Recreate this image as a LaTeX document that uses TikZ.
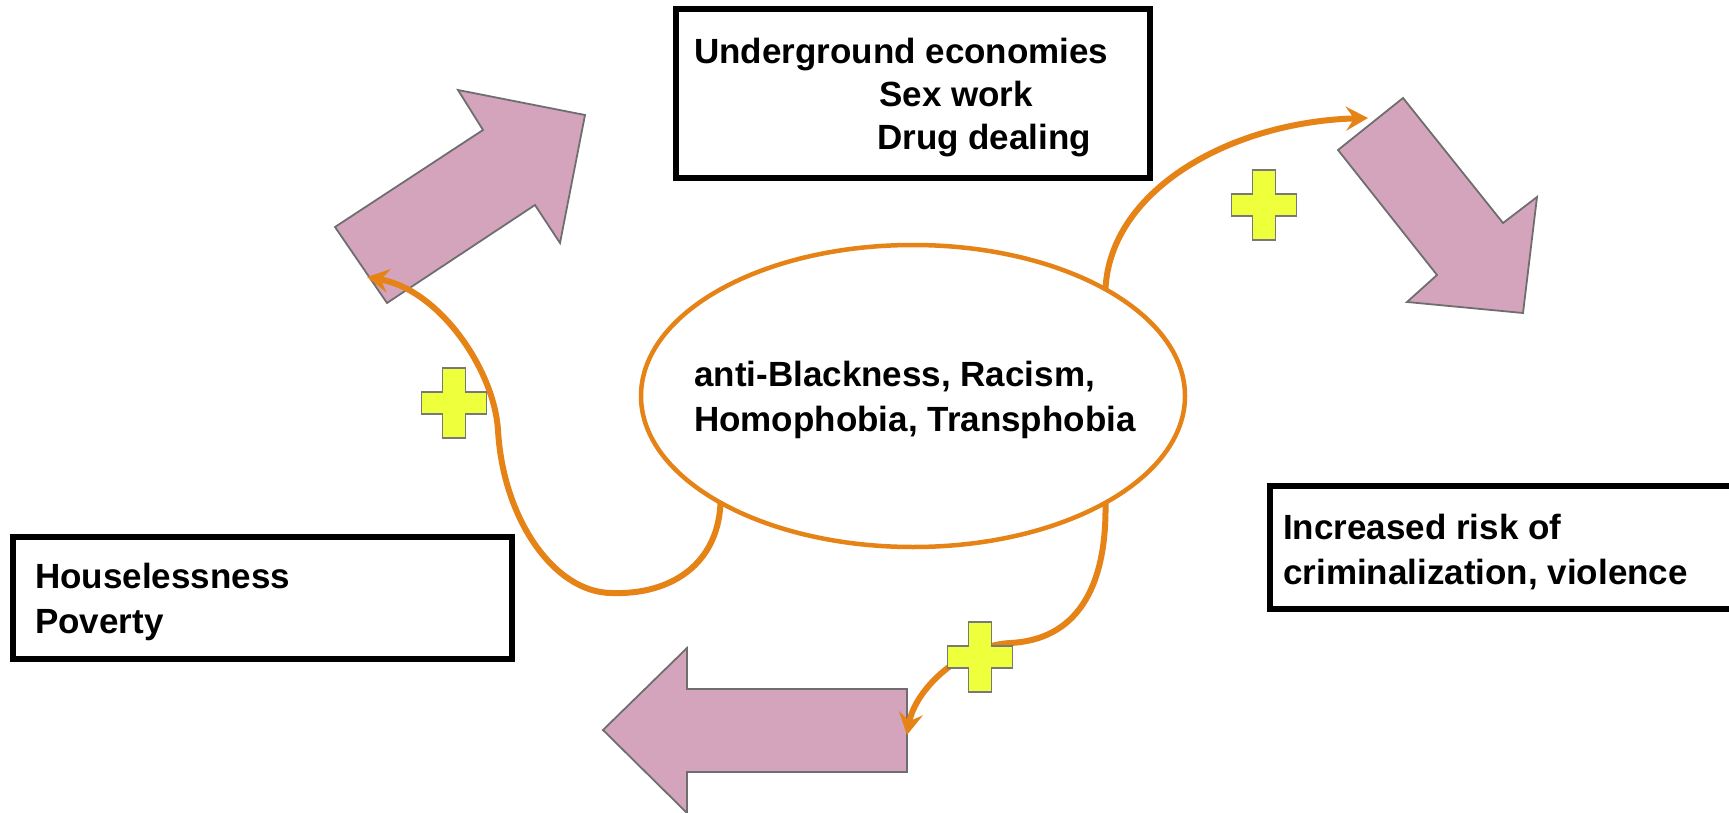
\documentclass[tikz,border=0pt]{standalone}
\usepackage{fontspec}
\setmainfont{Liberation Sans}
\usetikzlibrary{shapes.geometric,arrows.meta}
\definecolor{pinkfill}{RGB}{212,164,189}
\definecolor{pinkline}{RGB}{110,110,110}
\definecolor{orangec}{RGB}{229,131,22}
\definecolor{plusfill}{RGB}{238,255,60}
\definecolor{plusline}{RGB}{120,120,120}
\begin{document}
\begin{tikzpicture}[x=1pt,y=-1pt,
  txt/.style={font=\fontsize{35}{44}\selectfont\bfseries, inner sep=0pt, anchor=base west},
  frame/.style={draw=black, line width=5.5pt, inner sep=0pt, outer sep=0pt, anchor=north west},
  bigarrow/.style={fill=pinkfill, draw=pinkline, line width=1.8pt, line join=miter},
  link/.style={draw=orangec, line width=6pt, -{Stealth[length=22pt,width=24pt,inset=8pt]}},
  plusbox/.style={fill=plusfill, draw=plusline, line width=1.8pt},
  plussign/.pic={\draw[plusbox] (-11.5,-35) -- (11.5,-35) -- (11.5,-11) -- (32.5,-11) -- (32.5,11) -- (11.5,11) -- (11.5,35) -- (-11.5,35) -- (-11.5,11) -- (-32.5,11) -- (-32.5,-11) -- (-11.5,-11) -- cycle;}
]
\useasboundingbox (0,0) rectangle (1729,813);

% pink block arrows
\draw[bigarrow] (335,227) -- (483,130) -- (458,90) -- (585,115) -- (560,243) -- (535,205) -- (387,303) -- cycle;
\draw[bigarrow] (1403,98) -- (1503,223) -- (1537,197) -- (1523,313) -- (1407,302) -- (1437,275) -- (1338,150) -- cycle;
\draw[bigarrow] (907,689) -- (687,689) -- (687,648) -- (603,730) -- (687,813) -- (687,772) -- (907,772) -- cycle;

\coordinate (endA) at (367,277);
\coordinate (endB) at (1368,118);
\coordinate (endC) at (907,735);

% central ellipse
\node[draw=orangec, line width=4.5pt, ellipse, minimum width=544pt, minimum height=302pt, inner sep=0pt, outer sep=0pt] (core) at (913,396) {};
\node[txt] (coreA) at (694,386) {anti-Blackness, Racism,};
\node[txt] (coreB) at (694,431) {Homophobia, Transphobia};

% connectors
\draw[link] (core.209) .. controls (718,565) and (670,595) .. (612,593)
  .. controls (555,593) and (503,520) .. (498,430)
  .. controls (494,370) and (440,290) .. (endA);
\draw[link] (core.29) .. controls (1110,190) and (1230,122) .. (endB);
\draw[link] (core.331) .. controls (1107,590) and (1075,640) .. (1010,643)
  .. controls (960,646) and (915,690) .. (endC);

% plus signs
\pic at (454,403) {plussign};
\pic at (1264,205) {plussign};
\pic at (980,657) {plussign};

% boxes
\node[frame, minimum width=474pt, minimum height=169pt] (ubox) at (676,9) {};
\node[txt] (u1) at (694,64) {Underground economies};
\node[txt] (u2) at (879,107) {Sex work};
\node[txt] (u3) at (877,150) {Drug dealing};

\node[frame, minimum width=499pt, minimum height=122pt] (hbox) at (13,537) {};
\node[txt] (h1) at (35,588) {Houselessness};
\node[txt] (h2) at (35,633) {Poverty};

\node[frame, minimum width=480pt, minimum height=123pt] (rbox) at (1270,486) {};
\node[txt] (r1) at (1283,539) {Increased risk of};
\node[txt] (r2) at (1283,584) {criminalization, violence};
\end{tikzpicture}
\end{document}
